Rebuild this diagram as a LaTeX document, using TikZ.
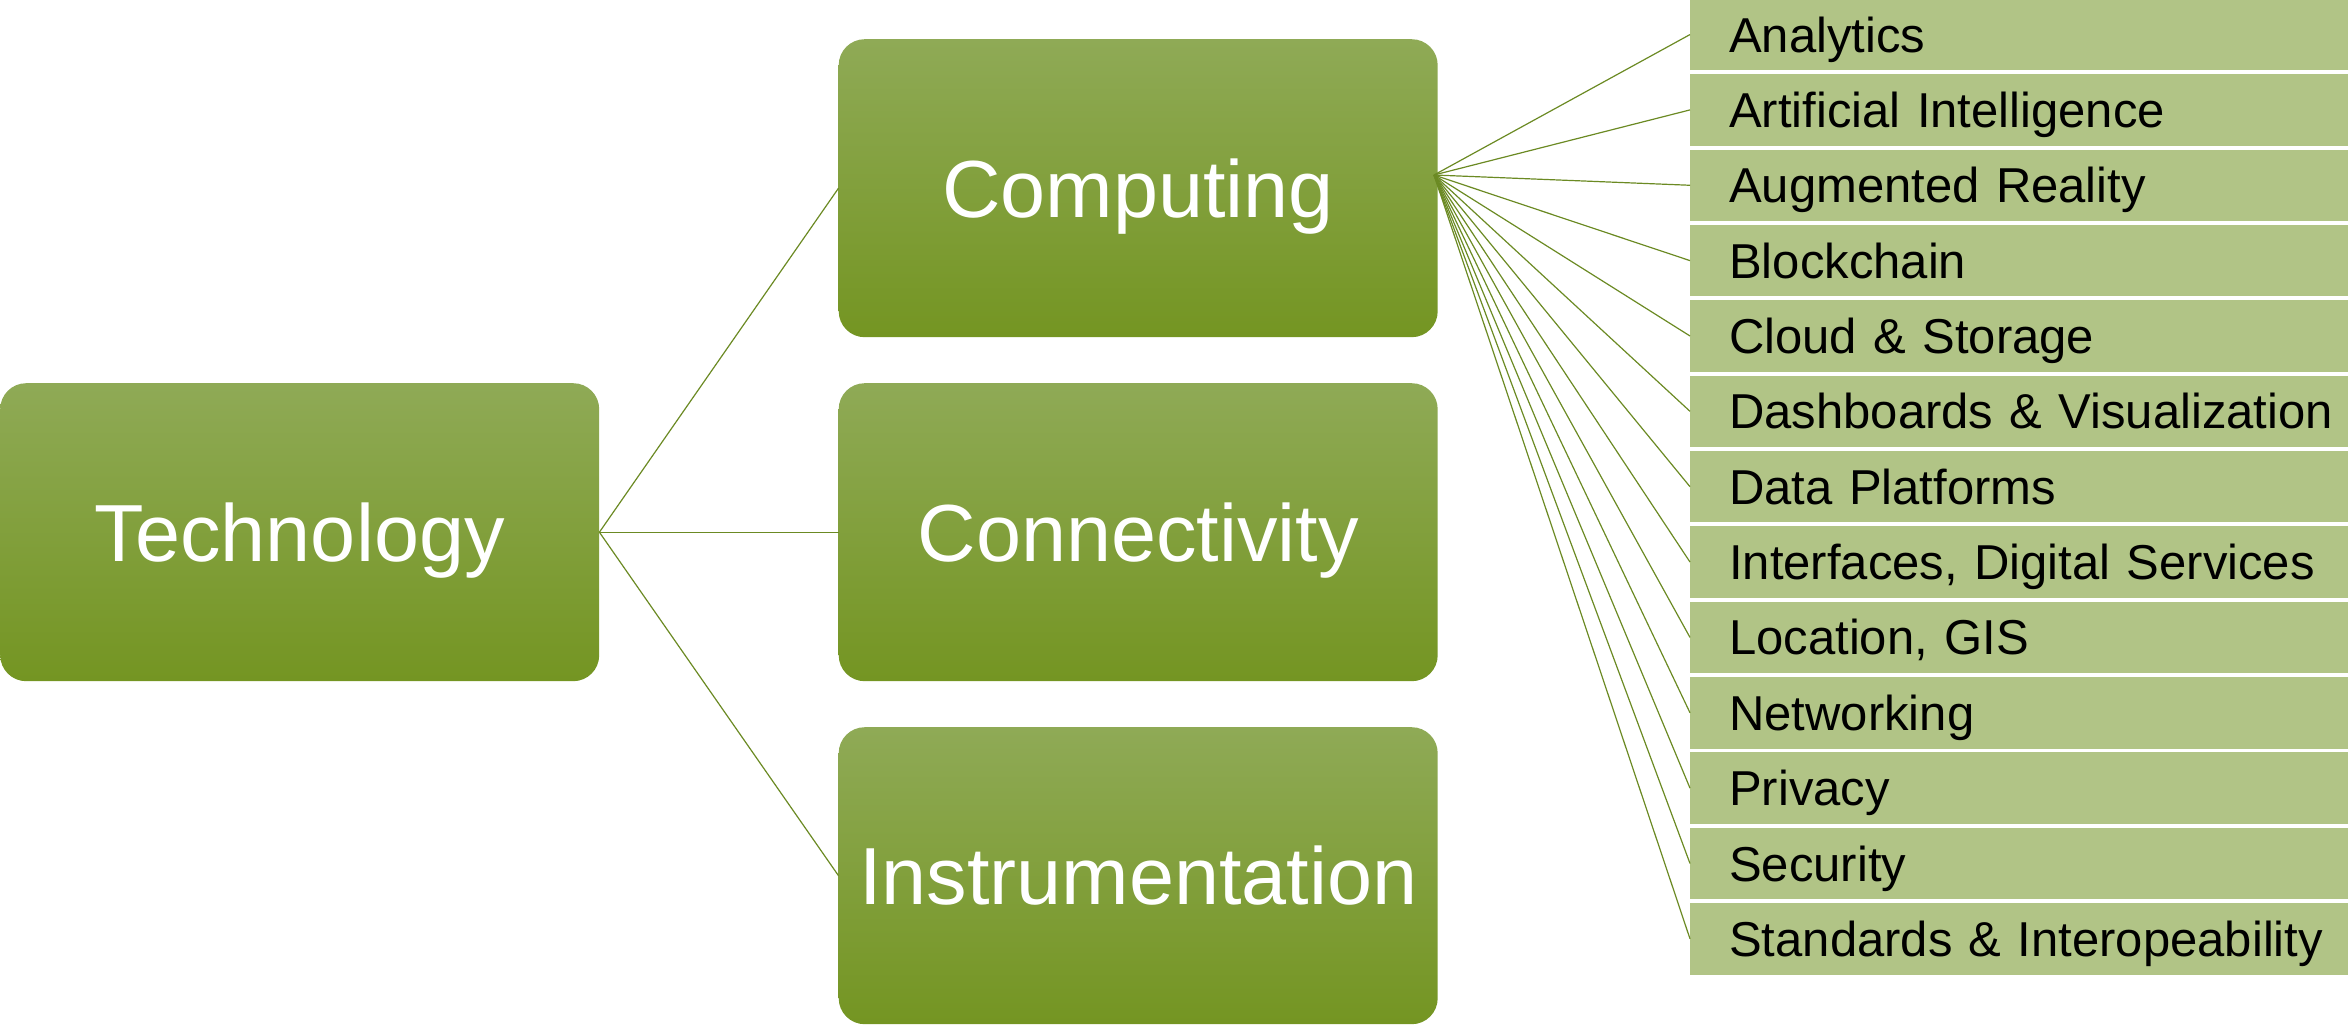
\documentclass[tikz,border=0pt]{standalone}
\usepackage{fontspec}
\setmainfont{Liberation Sans}
\definecolor{boxtop}{RGB}{143,170,86}
\definecolor{boxbot}{RGB}{116,149,34}
\definecolor{listfill}{RGB}{177,196,134}
\definecolor{connc}{RGB}{107,138,35}
\begin{document}
\begin{tikzpicture}[x=1pt,y=-1pt,
  bigbox/.style={rectangle, rounded corners=26pt, minimum width=599pt, minimum height=298pt,
    top color=boxtop, bottom color=boxbot, text=white, inner sep=0pt,
    font=\fontsize{81}{97}\selectfont, text height=58pt, text depth=0pt, anchor=north west},
  rowbox/.style={rectangle, fill=listfill, minimum width=658pt, minimum height=71.5pt,
    inner sep=0pt, text width=658pt, align=left, text height=35pt, text depth=0pt,
    font=\fontsize{49}{58}\selectfont, text=black, anchor=north west,
    execute at begin node={\hspace*{39pt}}},
  conn/.style={draw=connc, line width=1.2pt}]
\useasboundingbox (0,0) rectangle (2348,1025);
\node[bigbox] (tech) at (0,383) {Technology};
\node[bigbox] (comp) at (838.5,39) {Computing};
\node[bigbox] (conn) at (838.5,383) {Connectivity};
\node[bigbox, minimum height=297pt] (inst) at (838.5,727) {Instrumentation};
\draw[conn] (tech.east) -- (comp.west);
\draw[conn] (tech.east) -- (conn.west);
\draw[conn] (tech.east) -- (inst.west);
\coordinate (cp) at (1434,175);
\foreach \t [count=\i from 0] in {Analytics, Artificial Intelligence, Augmented Reality, Blockchain, Cloud \& Storage, Dashboards \& Visualization, Data Platforms, {Interfaces, Digital Services}, {Location, GIS}, Networking, Privacy, Security, Standards \& Interopeability} {
  \node[rowbox] (r\i) at (1690,-1.4+75.36*\i) {\t};
  \draw[conn] (cp) -- (r\i.west);
}
\end{tikzpicture}
\end{document}
